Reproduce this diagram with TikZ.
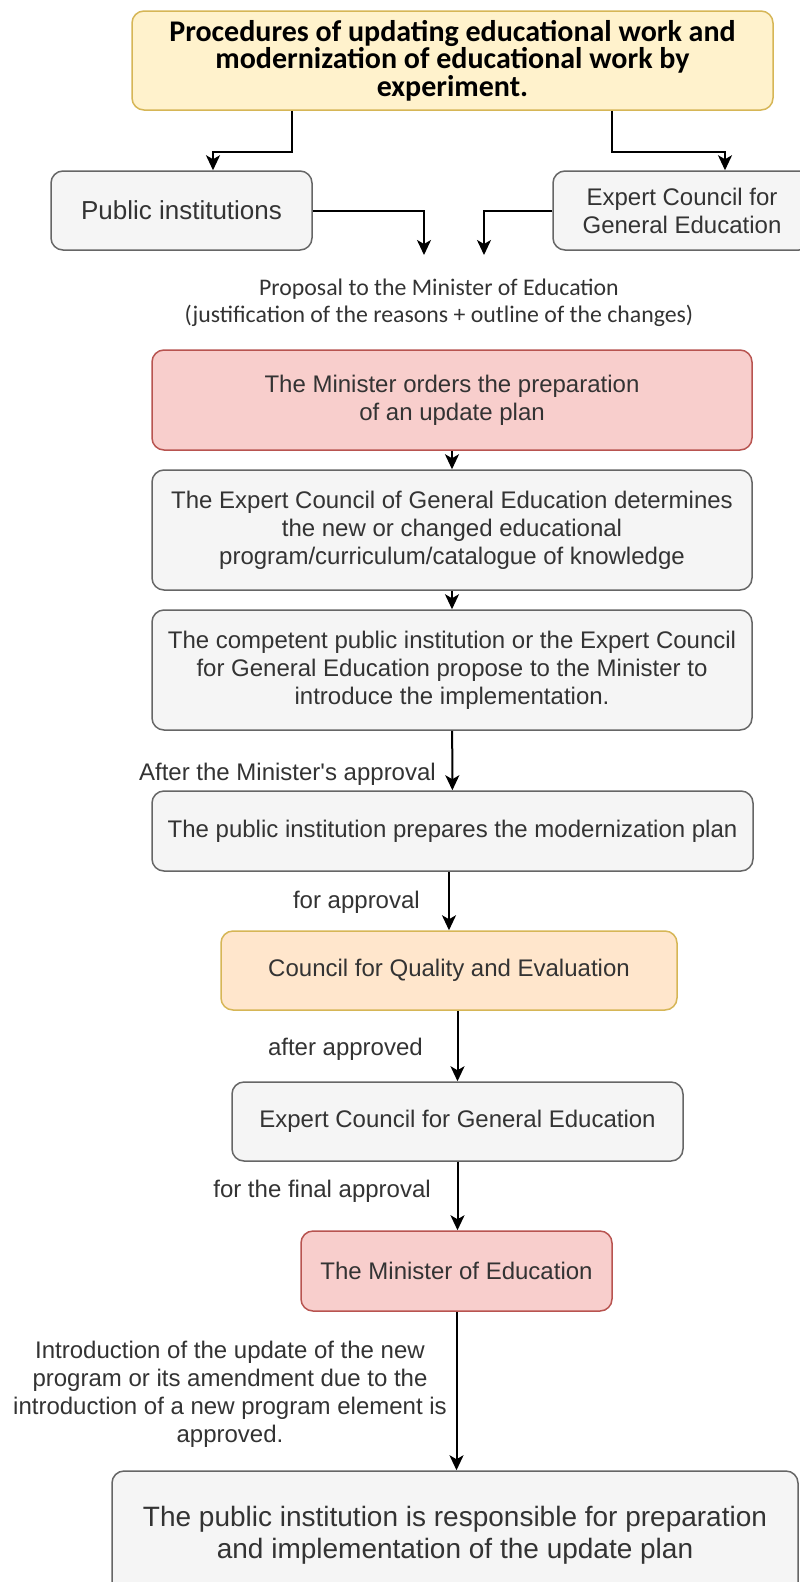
\documentclass[tikz,border=0pt]{standalone}
\usepackage{fontspec}
\setmainfont{Liberation Sans}
\newfontfamily\headfont{Carlito}
\usetikzlibrary{arrows.meta}

\definecolor{yelfill}{HTML}{FFF2CC}
\definecolor{yeledge}{HTML}{D6B656}
\definecolor{greyfill}{HTML}{F5F5F5}
\definecolor{greyedge}{HTML}{666666}
\definecolor{redfill}{HTML}{F8CECC}
\definecolor{rededge}{HTML}{B85450}
\definecolor{orafill}{HTML}{FFE6CC}
\definecolor{oraedge}{HTML}{D6B656}
\definecolor{ink}{HTML}{333333}

\begin{document}
\begin{tikzpicture}[x=1pt,y=-1pt]
	\useasboundingbox[fill=white] (0,0) rectangle (800,1582);
	\tikzstyle{box}=[draw, rounded corners=12pt, line width=1.5pt, align=center, inner sep=0pt, text=ink, font=\fontsize{24}{28}\selectfont]
	\tikzstyle{greybox}=[box, fill=greyfill, draw=greyedge]
	\tikzstyle{redbox}=[box, fill=redfill, draw=rededge]
	\tikzstyle{orabox}=[box, fill=orafill, draw=oraedge]
	\tikzstyle{yelbox}=[box, fill=yelfill, draw=yeledge, text=black]
	\tikzstyle{note}=[inner sep=0pt, text=ink, font=\fontsize{24}{28}\selectfont]

	\node[yelbox, minimum width=641pt, minimum height=99pt, font=\headfont\bfseries\fontsize{30}{27.5}\selectfont] (T) at (452.5,60.5)
		{Procedures of updating educational work and\\modernization of educational work by\\experiment.};
	\node[greybox, minimum width=261pt, minimum height=79pt, font=\fontsize{26}{30}\selectfont] (pub) at (181.5,210.5) {Public institutions};
	\node[greybox, minimum width=258pt, minimum height=79pt] (exp) at (682,210.5) {Expert Council for\\General Education};
	\coordinate (pin) at (424,255);
	\coordinate (ein) at (484,255);
	\node[note, align=center, font=\headfont\fontsize{23.8}{27}\selectfont] (prop) at (439,303)
		{Proposal to the Minister of Education\\(justification of the reasons + outline of the changes)};

	\node[redbox, minimum width=600pt, minimum height=100pt] (orders) at (452,400) {The Minister orders the preparation\\of an update plan};
	\node[greybox, minimum width=600pt, minimum height=120pt] (determ) at (452,530)
		{The Expert Council of General Education determines\\the new or changed educational\\program/curriculum/catalogue of knowledge};
	\node[greybox, minimum width=600pt, minimum height=120pt] (comp) at (452,670)
		{The competent public institution or the Expert Council\\for General Education propose to the Minister to\\introduce the implementation.};
	\node[greybox, minimum width=601pt, minimum height=80pt] (prep) at (452.5,831) {The public institution prepares the modernization plan};
	\node[orabox, minimum width=456pt, minimum height=79pt] (council) at (449,970.5) {Council for Quality and Evaluation};
	\node[greybox, minimum width=451pt, minimum height=79pt] (exp2) at (457.5,1121.5) {Expert Council for General Education};
	\node[redbox, minimum width=311pt, minimum height=80pt] (minister) at (456.5,1271) {The Minister of Education};
	\node[greybox, minimum width=686pt, minimum height=128pt, font=\fontsize{28}{32}\selectfont] (final) at (455,1535)
		{The public institution is responsible for preparation\\and implementation of the update plan};

	\node[note, anchor=base east] (l1) at (436,780) {After the Minister\textquotesingle s approval};
	\node[note, anchor=base east] (l2) at (420,908) {for approval};
	\node[note, anchor=base east] (l3) at (423,1055) {after approved};
	\node[note, anchor=base east] (l4) at (431,1197) {for the final approval};
	\node[note, anchor=north, align=center] (l5) at (230,1340.5)
		{Introduction of the update of the new\\program or its amendment due to the\\introduction of a new program element is\\approved.};

	\begin{scope}[-{Stealth[length=15pt,width=14pt,inset=4pt]}, line width=2pt, black]
		\draw ([xshift=-160.5pt]T.south) -- ++(0,41) -| ([xshift=31.5pt]pub.north);
		\draw ([xshift=159.5pt]T.south) -- ++(0,41) -| ([xshift=43pt]exp.north);
		\draw (pub.east) -| (pin);
		\draw (exp.west) -| (ein);
		\draw (orders) -- (determ);
		\draw (determ) -- (comp);
		\draw (comp) -- (prep);
		\draw (council.north |- prep.south) -- (council.north);
		\draw (exp2.north |- council.south) -- (exp2.north);
		\draw (exp2) -- (exp2 |- minister.north);
		\draw (minister.south) -- (minister.south |- final.north);
	\end{scope}
\end{tikzpicture}
\end{document}
